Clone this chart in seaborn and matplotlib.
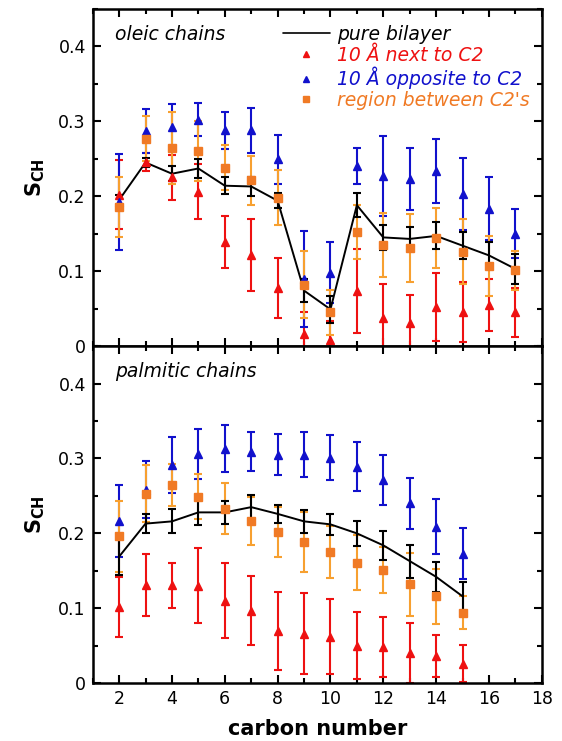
import numpy as np
import pandas as pd
import seaborn as sns
import matplotlib
matplotlib.use('Agg')
import matplotlib.pyplot as plt
from matplotlib.lines import Line2D
from matplotlib.ticker import MultipleLocator, FuncFormatter

# oleic chains (top panel), carbons 2..17
oleic_c = list(range(2, 18))
oleic_pure = [0.195, 0.245, 0.230, 0.237, 0.214, 0.213, 0.194, 0.074, 0.049, 0.188, 0.145, 0.143, 0.147, 0.134, 0.121, 0.103]
oleic_pure_err = [0.007, 0.006, 0.010, 0.013, 0.011, 0.013, 0.010, 0.015, 0.018, 0.016, 0.017, 0.016, 0.018, 0.018, 0.018, 0.020]
oleic_next = [0.202, 0.245, 0.225, 0.206, 0.139, 0.121, 0.078, 0.016, 0.008, 0.074, 0.038, 0.031, 0.052, 0.045, 0.055, 0.045]
oleic_next_err = [0.046, 0.012, 0.030, 0.037, 0.035, 0.048, 0.040, 0.030, 0.025, 0.056, 0.045, 0.037, 0.045, 0.040, 0.035, 0.033]
oleic_opp = [0.192, 0.287, 0.292, 0.302, 0.288, 0.288, 0.249, 0.089, 0.098, 0.240, 0.227, 0.223, 0.234, 0.203, 0.183, 0.150]
oleic_opp_err = [0.064, 0.029, 0.031, 0.022, 0.025, 0.030, 0.033, 0.064, 0.041, 0.024, 0.053, 0.041, 0.043, 0.048, 0.042, 0.033]
oleic_betw = [0.185, 0.277, 0.264, 0.260, 0.238, 0.221, 0.198, 0.082, 0.045, 0.152, 0.135, 0.131, 0.144, 0.126, 0.107, 0.101]
oleic_betw_err = [0.040, 0.030, 0.048, 0.040, 0.030, 0.033, 0.037, 0.045, 0.030, 0.036, 0.043, 0.045, 0.040, 0.043, 0.040, 0.026]

# palmitic chains (bottom panel), carbons 2..15
palm_c = list(range(2, 16))
palm_pure = [0.169, 0.213, 0.216, 0.228, 0.228, 0.235, 0.226, 0.216, 0.212, 0.200, 0.184, 0.163, 0.142, 0.116]
palm_pure_err = [0.024, 0.013, 0.016, 0.017, 0.015, 0.016, 0.012, 0.015, 0.014, 0.017, 0.019, 0.022, 0.020, 0.019]
palm_next = [0.102, 0.131, 0.131, 0.130, 0.110, 0.097, 0.070, 0.066, 0.062, 0.050, 0.048, 0.040, 0.036, 0.026]
palm_next_err = [0.040, 0.041, 0.030, 0.050, 0.050, 0.046, 0.052, 0.054, 0.050, 0.045, 0.040, 0.040, 0.028, 0.025]
palm_opp = [0.216, 0.258, 0.291, 0.306, 0.313, 0.309, 0.305, 0.305, 0.301, 0.289, 0.271, 0.240, 0.209, 0.173]
palm_opp_err = [0.048, 0.038, 0.037, 0.033, 0.031, 0.026, 0.027, 0.030, 0.030, 0.033, 0.033, 0.034, 0.037, 0.034]
palm_betw = [0.196, 0.253, 0.265, 0.249, 0.233, 0.216, 0.202, 0.188, 0.175, 0.161, 0.151, 0.132, 0.116, 0.094]
palm_betw_err = [0.047, 0.038, 0.028, 0.030, 0.034, 0.032, 0.033, 0.040, 0.035, 0.037, 0.031, 0.042, 0.037, 0.022]

RED = '#ee1111'
BLUE = '#1111cc'
ORANGE_BAR = '#f7a030'
ORANGE = '#f07a25'

sns.set_style('ticks', {'text.color': 'black', 'axes.labelcolor': 'black',
                        'xtick.color': 'black', 'ytick.color': 'black',
                        'axes.edgecolor': 'black'})
plt.rcParams['font.family'] = ['DejaVu Sans']

fig = plt.figure(figsize=(5.62, 7.41), dpi=100)
ax_top = fig.add_axes([0.165, 0.533, 0.799, 0.455])
ax_bot = fig.add_axes([0.165, 0.078, 0.799, 0.455])


def draw_panel(ax, c, pure, pure_err, nxt, nxt_err, opp, opp_err, betw, betw_err):
    eb = dict(capsize=3, elinewidth=1.5, capthick=1.5, linestyle='none')
    ax.errorbar(c, nxt, yerr=nxt_err, color=RED, marker='^', ms=5.5, **eb)
    ax.errorbar(c, opp, yerr=opp_err, color=BLUE, marker='^', ms=5.5, **eb)
    ax.errorbar(c, betw, yerr=betw_err, ecolor=ORANGE_BAR, color=ORANGE, marker='s', ms=5.5, **eb)
    ax.errorbar(c, pure, yerr=pure_err, color='black', **eb)
    df = pd.DataFrame({'carbon': c, 'scd': pure})
    sns.lineplot(data=df, x='carbon', y='scd', color='black', lw=1.4, ax=ax)

    ax.set_xlim(1, 18)
    ax.set_ylim(0, 0.45)
    ax.xaxis.set_major_locator(MultipleLocator(2))
    ax.xaxis.set_minor_locator(MultipleLocator(1))
    ax.yaxis.set_major_locator(MultipleLocator(0.1))
    ax.yaxis.set_minor_locator(MultipleLocator(0.05))
    ax.yaxis.set_major_formatter(FuncFormatter(lambda v, p: '0' if abs(v) < 1e-9 else f'{v:.1f}'))
    ax.tick_params(which='both', direction='in', top=True, right=True, width=1.5,
                   labelsize=12.5, pad=5, colors='black')
    ax.tick_params(which='major', length=6)
    ax.tick_params(which='minor', length=3.5)
    for s in ax.spines.values():
        s.set_linewidth(1.8)
        s.set_color('black')
    ax.set_ylabel('S$_{\\mathregular{CH}}$', fontsize=15, fontweight='bold', labelpad=8, color='black')
    ax.set_xlabel('')


draw_panel(ax_top, oleic_c, oleic_pure, oleic_pure_err, oleic_next, oleic_next_err,
           oleic_opp, oleic_opp_err, oleic_betw, oleic_betw_err)
draw_panel(ax_bot, palm_c, palm_pure, palm_pure_err, palm_next, palm_next_err,
           palm_opp, palm_opp_err, palm_betw, palm_betw_err)

ax_top.tick_params(labelbottom=False)
ax_bot.set_xlabel('carbon number', fontsize=15, fontweight='bold', labelpad=8, color='black')

ax_top.text(0.05, 0.925, 'oleic chains', transform=ax_top.transAxes, fontsize=13.5,
            style='italic', va='center', color='black')
ax_bot.text(0.05, 0.925, 'palmitic chains', transform=ax_bot.transAxes, fontsize=13.5,
            style='italic', va='center', color='black')

handles = [
    Line2D([], [], color='black', lw=1.2),
    Line2D([], [], color=RED, marker='^', ms=4, ls='none'),
    Line2D([], [], color=BLUE, marker='^', ms=4, ls='none'),
    Line2D([], [], color=ORANGE, marker='s', ms=4, ls='none'),
]
labels = ['pure bilayer', '10 Å next to C2', '10 Å opposite to C2', "region between C2's"]
leg = ax_top.legend(handles, labels, loc='upper right', frameon=False, fontsize=13.5,
                    handlelength=2.5, handletextpad=0.4, labelspacing=0.1,
                    borderaxespad=0.0, bbox_to_anchor=(0.99, 0.975))
for t, col in zip(leg.get_texts(), ['black', RED, BLUE, ORANGE]):
    t.set_color(col)
    t.set_style('italic')

fig.savefig('out.png', dpi=100)
